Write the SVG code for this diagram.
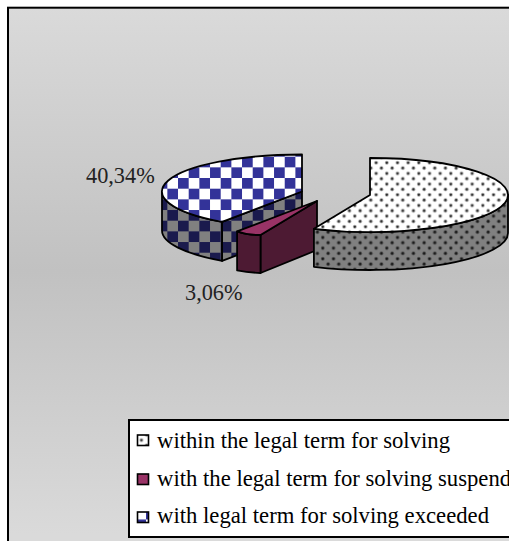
<svg xmlns="http://www.w3.org/2000/svg" width="509" height="541" viewBox="0 0 509 541">
<defs>
<linearGradient id="bg" gradientUnits="userSpaceOnUse" x1="0" y1="7" x2="0" y2="535">
<stop offset="0" stop-color="#dadada"/>
<stop offset="0.5" stop-color="#c1c1c1"/>
<stop offset="1" stop-color="#dadada"/>
</linearGradient>
<pattern id="chkTop" patternUnits="userSpaceOnUse" x="7.3" y="7.3" width="21.34" height="21.34">
<rect width="21.34" height="21.34" fill="#ffffff"/>
<rect width="10.67" height="10.67" fill="#333399"/>
<rect x="10.67" y="10.67" width="10.67" height="10.67" fill="#333399"/>
</pattern>
<pattern id="chkSide" patternUnits="userSpaceOnUse" x="7.3" y="7.3" width="21.34" height="21.34">
<rect width="21.34" height="21.34" fill="#808080"/>
<rect width="10.67" height="10.67" fill="#1a1a4d"/>
<rect x="10.67" y="10.67" width="10.67" height="10.67" fill="#1a1a4d"/>
</pattern>
<pattern id="dotTop" patternUnits="userSpaceOnUse" width="10.67" height="10.67">
<rect width="10.67" height="10.67" fill="#ffffff"/>
<circle cx="2.7" cy="2.7" r="1.9" fill="#a0a0a0"/>
<circle cx="2.7" cy="2.7" r="1.1" fill="#2a2a2a"/>
<circle cx="8" cy="8" r="1.9" fill="#a0a0a0"/>
<circle cx="8" cy="8" r="1.1" fill="#2a2a2a"/>
</pattern>
<pattern id="dotSide" patternUnits="userSpaceOnUse" width="10.67" height="10.67">
<rect width="10.67" height="10.67" fill="#808080"/>
<circle cx="2.7" cy="2.7" r="1.9" fill="#4a4a4a"/>
<circle cx="2.7" cy="2.7" r="1.1" fill="#151515"/>
<circle cx="8" cy="8" r="1.9" fill="#4a4a4a"/>
<circle cx="8" cy="8" r="1.1" fill="#151515"/>
</pattern>
</defs>
<style>
.edge{stroke:#000;stroke-width:1.8;stroke-linejoin:round}
.lbl{font-family:"Liberation Serif","Times New Roman",serif;font-size:22.3px;fill:#222}
.leg{font-family:"Liberation Serif","Times New Roman",serif;font-size:22.7px;fill:#000}
.sw{stroke:#000;stroke-width:1.6}
</style>

<g id="background">
<rect x="8" y="7.7" width="540" height="560" fill="url(#bg)" stroke="#000" stroke-width="2"/>
</g>

<g id="slice-exceeded">
<path class="edge" fill="url(#chkSide)" d="M162,191.5 A140,37 0 0 0 222.1,221.9 L222.1,260.9 A140,37 0 0 1 162,230.5 Z"/>
<path class="edge" fill="url(#chkSide)" d="M302,191.5 L222.1,221.9 L222.1,260.9 L302,230.5 Z"/>
<path class="edge" fill="url(#chkTop)" d="M302,191.5 L222.1,221.9 A140,37 0 0 1 302,154.5 Z"/>
</g>

<g id="slice-suspended">
<path class="edge" fill="#4d1a33" d="M317,201 L260.5,234.9 L260.5,273 L317,250 Z"/>
<path class="edge" fill="#4d1a33" d="M237.1,231.4 Q248,235.5 260.5,234.9 L260.5,273 Q248,272.5 237.1,270.4 Z"/>
<path class="edge" fill="#993366" d="M317,201 L237.1,231.4 Q248,235.5 260.5,234.9 Z"/>
</g>

<g id="slice-within">
<path class="edge" fill="url(#dotSide)" d="M508,195 A138,37 0 0 1 313.9,228.8 L313.9,266.8 A138,37 0 0 0 508,233 Z"/>
<path class="edge" fill="url(#dotTop)" d="M370,195 L370,158 A138,37 0 1 1 313.9,228.8 Z"/>
</g>

<g id="labels">
<text class="lbl" x="86" y="182.5">40,34%</text>
<text class="lbl" x="185" y="300">3,06%</text>
</g>

<g id="legend">
<rect x="129" y="420" width="400" height="117" fill="#ffffff" stroke="#000" stroke-width="2"/>
<g id="legend-within">
<rect class="sw" x="137.5" y="435" width="11" height="10.5" fill="url(#dotTop)"/>
<text class="leg" x="157" y="448">within the legal term for solving</text>
</g>
<g id="legend-suspended">
<rect class="sw" x="137.5" y="474" width="11" height="10.5" fill="#993366"/>
<text class="leg" x="157" y="485.5">with the legal term for solving suspended</text>
</g>
<g id="legend-exceeded">
<rect class="sw" x="137.5" y="512" width="11" height="10.5" fill="url(#chkTop)"/>
<text class="leg" x="157" y="523">with legal term for solving exceeded</text>
</g>
</g>
</svg>
